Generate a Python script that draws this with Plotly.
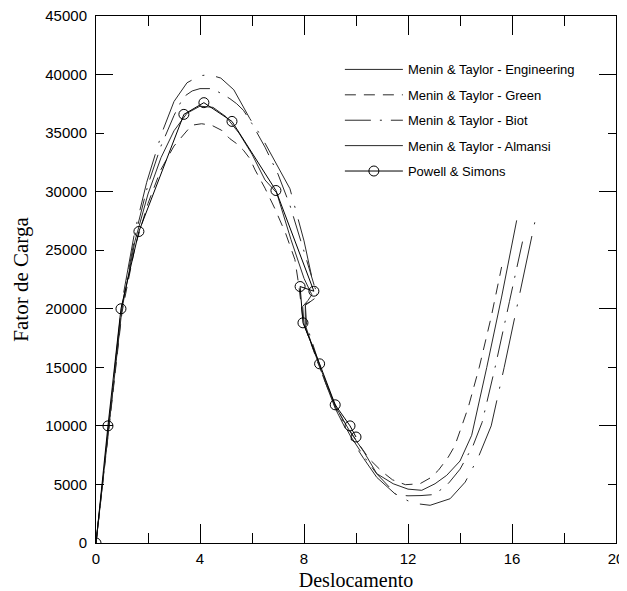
import plotly.graph_objects as go

# ---------------- data ----------------
eng_x = [0, 0.5, 1.0, 1.5, 2.0, 2.5, 3.0, 3.5, 4.0, 4.5, 5.0, 5.5, 6.0, 6.5, 6.95, 7.5, 8.0, 8.3, 8.15, 7.95,
         8.0, 8.6, 9.2, 9.77, 10.3, 10.8, 11.43, 12.0, 12.53, 13.04, 13.49, 14.0, 14.45, 15.03, 15.6, 16.18]
eng_y = [0, 10200, 20000, 25800, 29800, 32900, 35200, 36700, 37300, 37200, 36400, 35000, 33200, 31000, 29900,
         25900, 22600, 21200, 20700, 20200, 18700, 15100, 11700, 9500, 7800, 5920, 5060, 4600, 4500, 5060,
         5780, 7000, 9200, 15000, 21000, 27550]

green_x = [0, 0.5, 1.0, 1.5, 2.0, 2.5, 3.0, 3.68, 4.06, 4.45, 4.83, 5.15, 5.41, 5.67, 5.92, 6.12, 6.5, 6.88,
           7.3, 7.65, 7.8, 7.97, 8.5, 9.0, 9.5, 10.0, 10.5, 11.0, 11.4, 11.9, 12.46, 12.85, 13.17, 13.55,
           13.8, 14.07, 14.32, 14.74, 15.2, 15.6]
green_y = [0, 10000, 19700, 25300, 29000, 31900, 33900, 35670, 35800, 35670, 35240, 34520, 34100, 33540,
           32820, 31850, 30300, 28550, 26400, 24200, 22000, 18900, 15600, 12700, 10500, 8800, 7200, 6100,
           5400, 4980, 5060, 5550, 6210, 7340, 8300, 10000, 11600, 15000, 19300, 23570]

biot_x = [0, 0.5, 1.0, 1.5, 2.0, 2.5, 3.0, 3.36, 3.7, 4.0, 4.45, 4.83, 5.15, 5.41, 5.67, 6.0, 6.5, 7.0, 7.46,
          8.0, 8.4, 8.5, 8.25, 8.05, 8.1, 8.6, 9.2, 9.77, 10.3, 10.8, 11.57, 12.0, 12.5, 12.97, 13.42, 13.6,
          14.0, 14.5, 14.85, 15.35, 15.9, 16.46]
biot_y = [0, 10300, 20200, 26200, 30600, 33900, 36500, 38080, 38600, 38800, 38800, 38370, 37940, 37510, 36950,
          35800, 33800, 31500, 28830, 24900, 21900, 21200, 20600, 20400, 18600, 15200, 11600, 9200, 7400,
          5900, 4100, 4030, 4050, 4130, 4780, 5210, 6300, 8300, 10300, 15000, 20600, 26300]

alm_x = [0, 0.5, 1.0, 1.5, 1.95, 2.53, 3.0, 3.5, 4.0, 4.36, 4.8, 5.3, 5.92, 6.37, 6.9, 7.46, 8.0, 8.35, 8.55,
         8.3, 8.05, 8.05, 8.6, 9.2, 9.77, 10.3, 10.8, 11.5, 12.0, 12.33, 12.85, 13.62, 14.2, 14.7, 15.2, 15.7,
         16.2, 16.6, 16.92]
alm_y = [0, 10500, 20600, 26700, 30800, 35000, 37700, 39300, 39900, 39990, 39700, 38700, 36230, 34670, 32500,
         30250, 25800, 22200, 21100, 20700, 20300, 18600, 15000, 11500, 9000, 7200, 5600, 4200, 3600, 3360,
         3220, 3780, 5200, 7300, 10000, 15000, 20200, 24500, 27840]

ps_x = [0, 0.46, 0.96, 1.65, 3.38, 4.15, 5.23, 6.92, 8.38, 7.85, 7.96, 8.6, 9.2, 9.77, 10.0]
ps_y = [0, 10000, 20000, 26600, 36600, 37600, 36000, 30100, 21500, 21900, 18800, 15300, 11800, 10000, 9050]

series_names = ["Menin & Taylor - Engineering", "Menin & Taylor - Green",
                "Menin & Taylor - Biot", "Menin & Taylor - Almansi", "Powell & Simons"]

x_title = "Deslocamento"
y_title = "Fator de Carga"

# ---------------- figure ----------------
fig = go.Figure()
col = "#2a2a2a"
styles = [
    (eng_x, eng_y, "solid"),
    (green_x, green_y, "11px,8px"),
    (biot_x, biot_y, "26px,9px,2px,9px"),
    (alm_x, alm_y, "58px,12px,2px,12px"),
]
for i, (xs, ys, dash) in enumerate(styles):
    fig.add_trace(go.Scatter(x=xs, y=ys, mode="lines", name=series_names[i],
                             line=dict(color=col, width=1, dash=dash),
                             legendgroup=f"g{i}"))

fig.add_trace(go.Scatter(x=ps_x, y=ps_y, mode="lines+markers", name=series_names[4],
                         line=dict(color="black", width=1),
                         marker=dict(symbol="circle-open", size=10, color="black", line=dict(width=1)),
                         legendgroup="g4"))

# invisible trace on overlay axis so it is drawn
fig.add_trace(go.Scatter(x=[0], y=[0], yaxis="y2", mode="markers", marker=dict(opacity=0),
                         showlegend=False, hoverinfo="skip"))

tickfont = dict(family="Liberation Sans, Arial, sans-serif", size=15, color="black")
titlefont = dict(family="Liberation Serif, Times New Roman, serif", size=21, color="black")
xtitlefont = dict(family="Liberation Serif, Times New Roman, serif", size=20, color="black")

fig.update_layout(
    width=619, height=583,
    margin=dict(l=88, r=11, t=8, b=48),
    paper_bgcolor="white", plot_bgcolor="white",
    showlegend=True,
    legend=dict(x=0.469, y=0.927, xanchor="left", yanchor="top", itemwidth=58,
                font=dict(family="Liberation Sans, Arial, sans-serif", size=13, color="black"),
                bgcolor="rgba(0,0,0,0)", tracegroupgap=5.5, traceorder="grouped"),
    xaxis=dict(range=[0, 20], dtick=4, tick0=0, ticks="inside", ticklen=19, tickwidth=1,
               tickcolor="black", showline=True, linecolor="black", linewidth=1, mirror="ticks",
               showgrid=False, zeroline=False, tickfont=tickfont, automargin=False,
               ticklabelstandoff=2, ticklabeloverflow="allow",
               minor=dict(dtick=2, tick0=0, ticks="inside", ticklen=10, tickcolor="black", showgrid=False),
               title=dict(text=x_title, font=xtitlefont, standoff=7)),
    yaxis=dict(range=[0, 45000], dtick=5000, tick0=0, ticks="inside", ticklen=8, tickwidth=1,
               tickcolor="black", showline=True, linecolor="black", linewidth=1, mirror="ticks",
               showgrid=False, zeroline=False, tickfont=tickfont, tickformat="d", automargin=False,
               ticklabelstandoff=5, ticklabeloverflow="allow",
               title=dict(text=y_title, font=titlefont, standoff=10)),
    yaxis2=dict(range=[0, 45000], overlaying="y", side="left", anchor="x", dtick=10000, tick0=0,
                ticks="inside", ticklen=17, tickwidth=1, tickcolor="black", showticklabels=False,
                showline=False, mirror="ticks", showgrid=False, zeroline=False, automargin=False),
)

fig.write_html("out.html")
